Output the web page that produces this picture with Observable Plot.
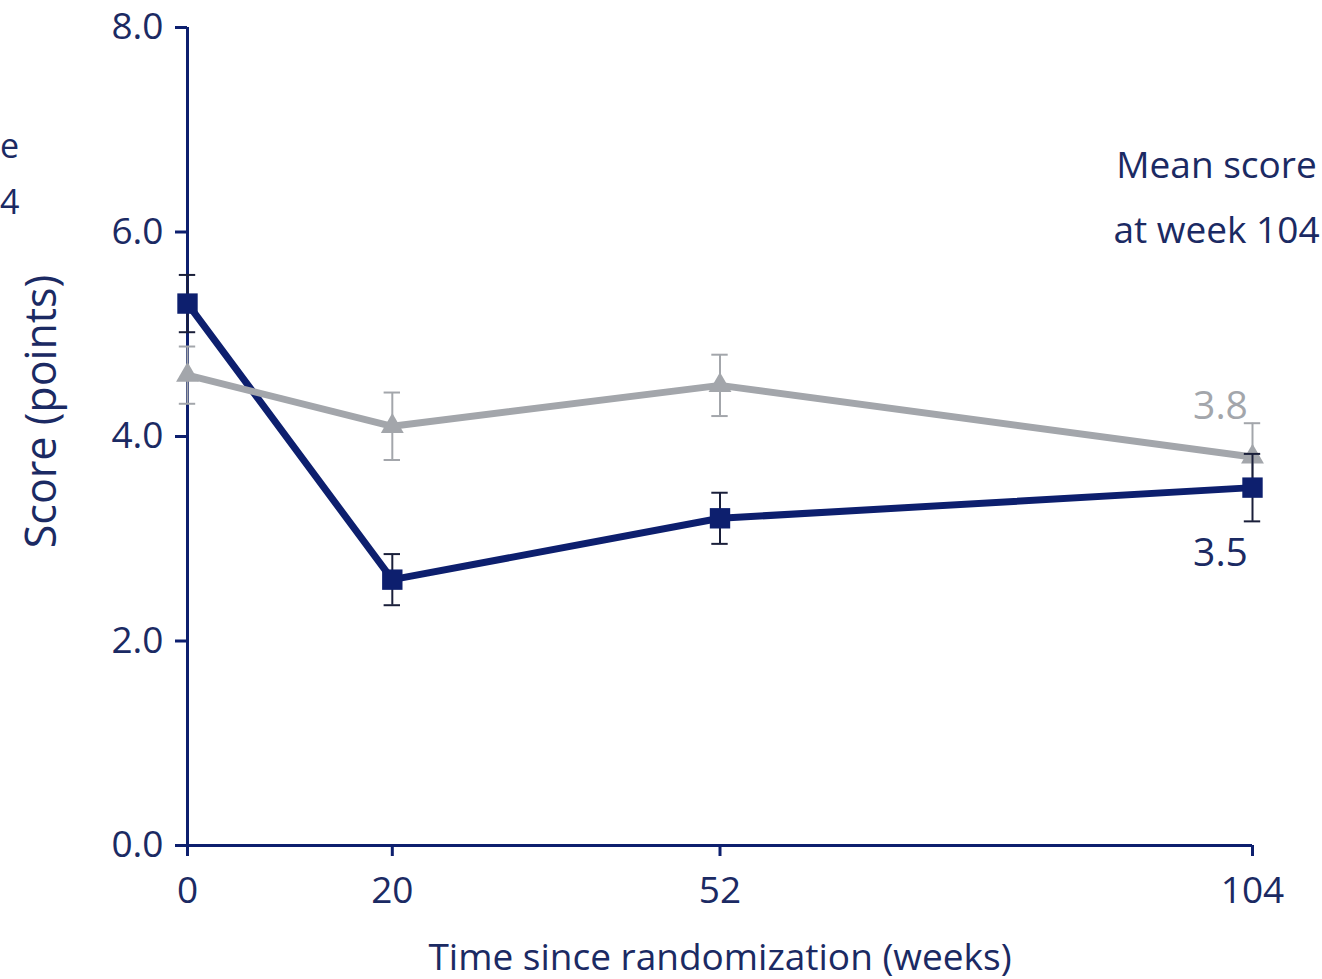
<!DOCTYPE html>
<html>
<head>
<meta charset="utf-8">
<script src="https://cdn.jsdelivr.net/npm/d3@7"></script>
<script src="https://cdn.jsdelivr.net/npm/@observablehq/plot@0.6"></script>
<style>
  html, body { margin: 0; padding: 0; background: #fff; }
  #wrap { position: relative; width: 1322px; height: 979px; overflow: hidden; font-family: "Open Sans", sans-serif; }
  .edge { position: absolute; left: 0px; color: #1b2a63; font-size: 34px; line-height: 1; }
</style>
</head>
<body>
<div id="wrap">
  <div class="edge" style="top:128px">e</div>
  <div class="edge" style="top:184px">4</div>
</div>
<script>
// Time points (weeks since randomization)
const weeks = [0, 20, 52, 104];

// Mean scores and error-bar half-widths for each group
const navyScores = [5.3, 2.6, 3.2, 3.5];
const navyErr = [0.28, 0.25, 0.25, 0.33];
const greyScores = [4.6, 4.1, 4.5, 3.8];
const greyErr = [0.28, 0.33, 0.3, 0.33];

// Axis ticks
const xTicks = [0, 20, 52, 104];
const yTicks = [0, 2, 4, 6, 8];

const navy = "#0d1f6e";
const grey = "#a3a6ab";
const ink = "#1b2a63";

const rows = (scores, errs) => weeks.map((w, i) => ({week: w, score: scores[i], lo: scores[i] - errs[i], hi: scores[i] + errs[i]}));
const navyData = rows(navyScores, navyErr);
const greyData = rows(greyScores, greyErr);
const cap = 0.8; // half-width of error-bar caps, in weeks

const errorBars = (data, color) => [
  Plot.ruleX(data, {x: "week", y1: "lo", y2: "hi", stroke: color, strokeWidth: 2}),
  Plot.ruleY(data, {y: "hi", x1: d => d.week - cap, x2: d => d.week + cap, stroke: color, strokeWidth: 2}),
  Plot.ruleY(data, {y: "lo", x1: d => d.week - cap, x2: d => d.week + cap, stroke: color, strokeWidth: 2})
];

const chart = Plot.plot({
  width: 1322,
  height: 979,
  marginLeft: 187,
  marginRight: 70,
  marginTop: 27,
  marginBottom: 134,
  style: {fontFamily: "'Open Sans', sans-serif", color: ink, background: "transparent"},
  x: {domain: [0, 104]},
  y: {domain: [0, 8]},
  marks: [
    Plot.axisX({ticks: xTicks, tickSize: 11, tickPadding: 20, fontSize: 37, stroke: navy, strokeWidth: 3,
      label: "Time since randomization (weeks)", labelAnchor: "center", labelArrow: "none", labelOffset: 124}),
    Plot.axisY({ticks: yTicks, tickFormat: d => d.toFixed(1), tickSize: 12, tickPadding: 12, fontSize: 37, stroke: navy, strokeWidth: 3,
      label: null}),
    // y-axis title, set a little above the frame's middle
    Plot.text(["Score (points)"], {frameAnchor: "left", textAnchor: "middle", dx: -145, dy: -25, rotate: -90, fontSize: 43, fill: ink}),
    Plot.ruleX([0], {stroke: navy, strokeWidth: 3}),
    Plot.ruleY([0], {stroke: navy, strokeWidth: 3}),

    Plot.line(navyData, {x: "week", y: "score", stroke: navy, strokeWidth: 7}),
    Plot.line(greyData, {x: "week", y: "score", stroke: grey, strokeWidth: 7}),
    ...errorBars(greyData, grey),
    Plot.dot(greyData, {x: "week", y: "score", symbol: "triangle", r: 8.5, fill: grey}),
    ...errorBars(navyData, "#1a1f3a"),
    Plot.dot(navyData, {x: "week", y: "score", symbol: "square", r: 11.5, fill: navy}),

    // End-point value labels
    Plot.text(greyData.slice(-1), {x: "week", y: "score", text: d => d.score.toFixed(1), dx: -32, dy: -50, fontSize: 39, fill: grey}),
    Plot.text(navyData.slice(-1), {x: "week", y: "score", text: d => d.score.toFixed(1), dx: -32, dy: 66, fontSize: 39, fill: ink}),

    Plot.text(["Mean score\nat week 104"], {frameAnchor: "top-right", dx: -36, dy: 105, textAnchor: "middle", lineHeight: 1.75, fontSize: 37, fill: ink})
  ]
});

document.getElementById("wrap").appendChild(chart);
</script>
</body>
</html>
